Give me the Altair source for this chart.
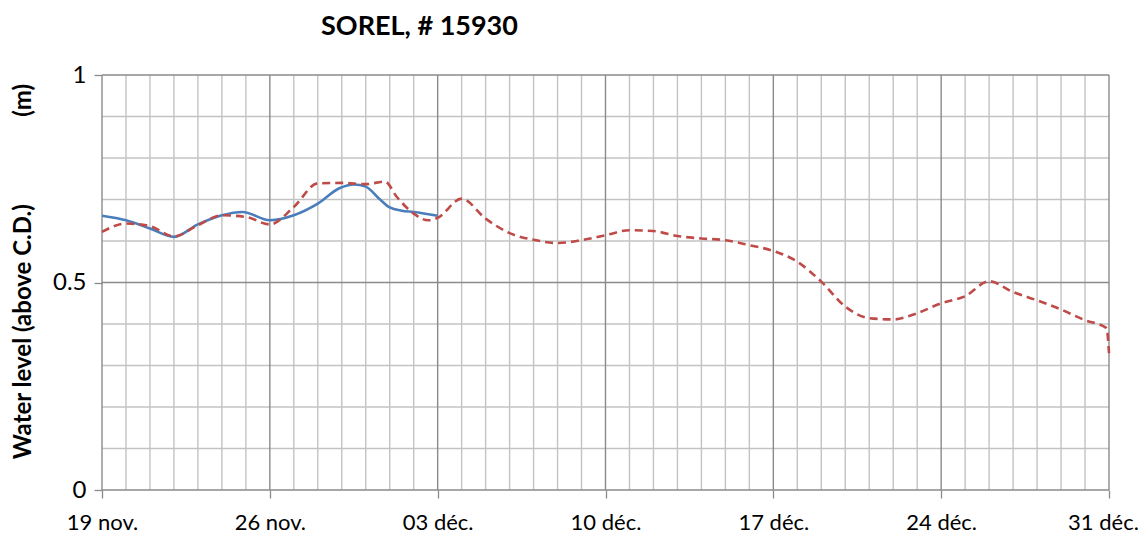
import altair as alt
import pandas as pd

# ---- data ----
tick_days = [0, 7, 14, 21, 28, 35, 42]
tick_labels = ["19 nov.", "26 nov.", "03 déc.", "10 déc.", "17 déc.", "24 déc.", "31 déc."]
y_ticks = [0, 0.5, 1]

obs_day = [0, 1, 2, 3, 4, 5, 5.86, 7, 8, 9, 9.9, 10.5, 11, 11.56, 12, 12.5, 13, 14]
obs_level = [0.661, 0.650, 0.630, 0.610, 0.640, 0.662, 0.670, 0.650, 0.662, 0.690,
             0.727, 0.736, 0.731, 0.702, 0.681, 0.673, 0.670, 0.661]

pred_day = [0, 1, 2, 3, 4, 5, 6, 7, 8, 9, 10, 11, 11.8, 12.3, 13, 13.6, 14,
            15, 16, 17, 18, 19, 20, 21, 22, 23, 24, 25, 26, 27, 28,
            29, 30, 31, 32, 33, 34, 35, 36, 37, 38, 39, 40, 41, 41.9, 42]
pred_level = [0.622, 0.642, 0.636, 0.611, 0.638, 0.662, 0.658, 0.640, 0.682, 0.739,
              0.740, 0.737, 0.743, 0.706, 0.666, 0.650, 0.656,
              0.702, 0.654, 0.619, 0.603, 0.595, 0.602, 0.614, 0.626, 0.624, 0.612,
              0.606, 0.602, 0.590, 0.576,
              0.550, 0.502, 0.442, 0.414, 0.411, 0.426, 0.450, 0.467, 0.503, 0.477,
              0.457, 0.435, 0.409, 0.390, 0.330]

# grid positions
minor_days = [d for d in range(0, 43) if d % 7 != 0]
major_days = [d for d in range(0, 43) if d % 7 == 0]
minor_lvls = [i / 10 for i in range(0, 11) if i % 5 != 0]
major_lvls = [0, 0.5, 1]

FONT = "Lato"
xscale = alt.Scale(domain=[0, 42], nice=False, zero=False)
yscale = alt.Scale(domain=[0, 1], nice=False)

label_expr = "[" + ",".join('"%s"' % t for t in tick_labels) + "][round(datum.value/7)]"

x_axis = alt.Axis(values=tick_days, labelExpr=label_expr, grid=False, domain=False,
                  ticks=True, tickSize=8, tickColor="#8a8a8a", tickWidth=1.3,
                  labelFont=FONT, labelFontSize=22, labelColor="#000000",
                  labelPadding=14, title=None, labelFlush=False,
                  labelOffset=alt.ExprRef("datum.value == 42 ? -6 : 0"))
y_axis = alt.Axis(values=y_ticks, grid=False, domain=False, ticks=True, tickSize=8,
                  tickColor="#8a8a8a", tickWidth=1.3, labelFont=FONT, labelFontSize=24,
                  labelColor="#000000", labelPadding=8, format="~g",
                  title="Water level (above C.D.)" + "\u00a0" * 15 + "(m)",
                  titleFont=FONT, titleFontSize=24, titleFontWeight="bold",
                  titleColor="#000000", titleAngle=270, titleAlign="center",
                  titleBaseline="middle", titleX=-79, titleY=196)

minor_v = alt.Chart(pd.DataFrame({"day": minor_days})).mark_rule(
    color="#c3c3c3", strokeWidth=1.4).encode(x=alt.X("day:Q", scale=xscale, axis=x_axis))
major_v = alt.Chart(pd.DataFrame({"day": major_days})).mark_rule(
    color="#8a8a8a", strokeWidth=1.4).encode(x=alt.X("day:Q", scale=xscale))
minor_h = alt.Chart(pd.DataFrame({"lvl": minor_lvls})).mark_rule(
    color="#c3c3c3", strokeWidth=1.4).encode(y=alt.Y("lvl:Q", scale=yscale, axis=y_axis))
major_h = alt.Chart(pd.DataFrame({"lvl": major_lvls})).mark_rule(
    color="#8a8a8a", strokeWidth=1.4).encode(y=alt.Y("lvl:Q", scale=yscale))

obs = alt.Chart(pd.DataFrame({"day": obs_day, "level": obs_level})).mark_line(
    color="#4a7ebb", strokeWidth=2.6, interpolate="monotone").encode(
    x=alt.X("day:Q", scale=xscale), y=alt.Y("level:Q", scale=yscale))
pred = alt.Chart(pd.DataFrame({"day": pred_day, "level": pred_level})).mark_line(
    color="#be4b48", strokeWidth=2.6, strokeDash=[8, 5], interpolate="monotone").encode(
    x=alt.X("day:Q", scale=xscale), y=alt.Y("level:Q", scale=yscale))

chart = alt.layer(minor_v, minor_h, major_v, major_h, obs, pred).properties(
    width=1007, height=415,
    padding={"left": 94, "top": 67, "right": 31, "bottom": 43},
    autosize=alt.AutoSizeParams(type="none"),
    title=alt.TitleParams("SOREL, # 15930", font=FONT, fontSize=27, fontWeight="bold",
                          color="#000000", anchor="start", frame="group", dx=219,
                          offset=22),
).configure_view(stroke=None)

chart.save("out.html", embed_options={"renderer": "svg", "actions": False})
